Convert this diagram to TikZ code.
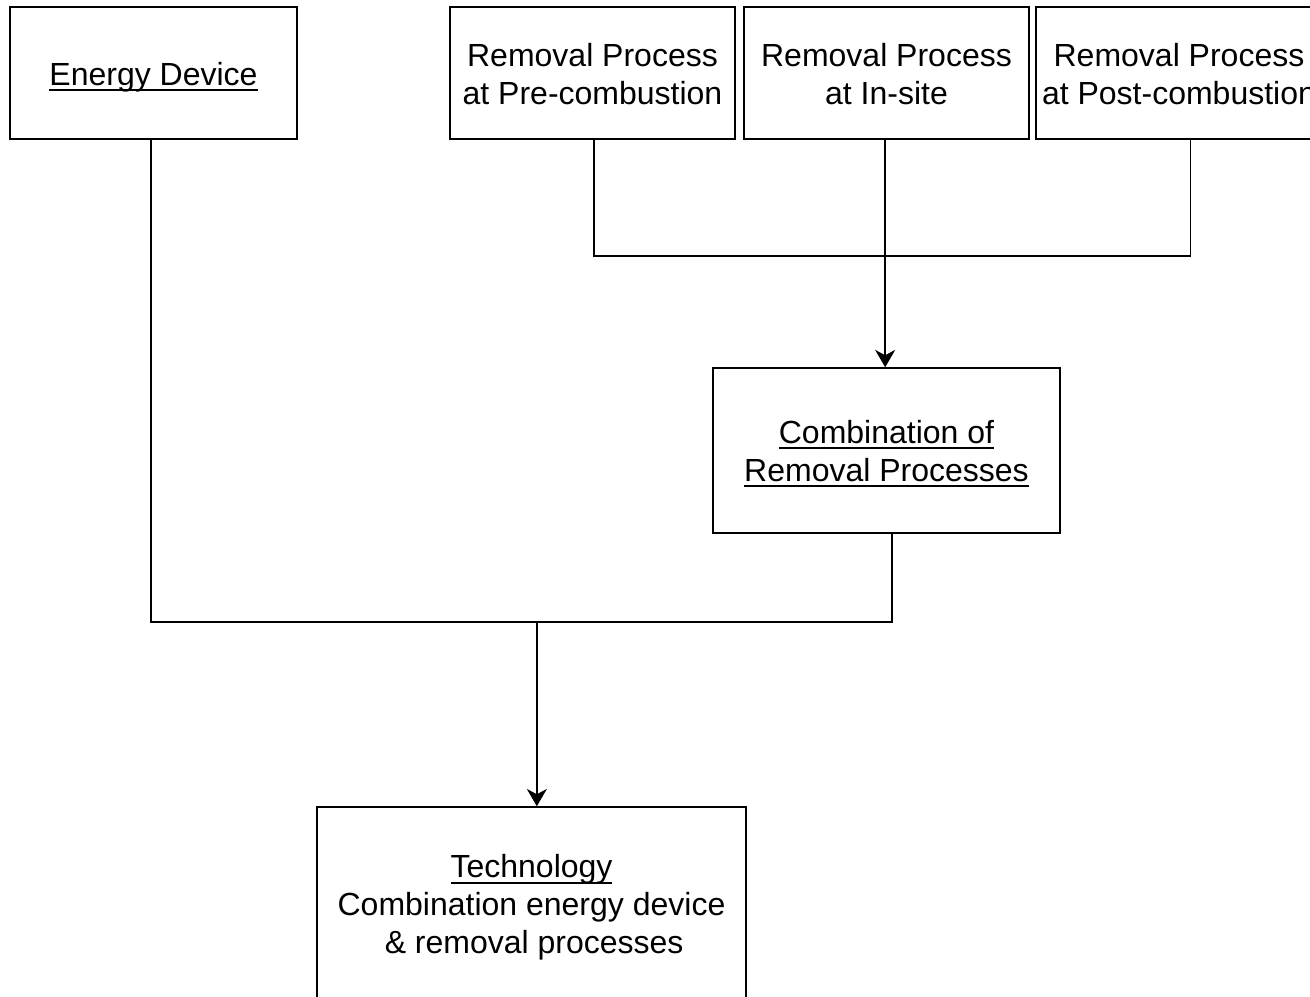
\documentclass[tikz,border=0pt]{standalone}
\usepackage{fontspec}
\setmainfont{Liberation Sans}
\usetikzlibrary{arrows.meta}
% underline with a fixed offset and thickness
\newcommand\ulbox[1]{\setbox0\hbox{#1}\rlap{\rule[-4.5pt]{\wd0}{1.5pt}}\box0}
% centred block of lines, set a little below the middle of its box
\newcommand\lines[2][3pt]{\raisebox{-#1}[\height][\depth]{\begin{tabular}{@{}c@{}}#2\end{tabular}}}
\begin{document}
\begin{tikzpicture}[x=0.75pt,y=-0.75pt,
  box/.style={draw,line width=1.1pt,inner sep=0pt,
    font=\fontsize{24}{28.5}\selectfont},
  link/.style={line width=1.1pt},
  arrowlink/.style={line width=1.1pt,-{Stealth[length=13pt,width=15pt,inset=4pt]}}]
\clip (0,0) rectangle (1310,996);
\fill[white] (0,0) rectangle (1310,996);

\node[box,minimum width=215.25pt,minimum height=99pt] (ed) at (153.5,73) {\lines[3.5pt]{\ulbox{Energy Device}}};
\node[box,minimum width=213.75pt,minimum height=99pt] (pre) at (592.5,73) {\lines[3.5pt]{Removal Process\\at Pre-combustion}};
\node[box,minimum width=213.75pt,minimum height=99pt] (ins) at (886.5,73) {\lines[3.5pt]{Removal Process\\at In-site}};
\node[box,minimum width=214.5pt,minimum height=99pt] (post) at (1179,73) {\lines[3.5pt]{Removal Process\\at Post-combustion}};
\node[box,minimum width=260.25pt,minimum height=123.75pt] (comb) at (886.5,450.5) {\lines{\ulbox{Combination of}\\\ulbox{Removal Processes}}};
\node[box,minimum width=321.75pt,minimum height=145.5pt] (tech) at (531.5,904) {\lines{\ulbox{Technology}\\Combination energy device\\\,\& removal processes}};

\coordinate (busA) at (0,256);
\coordinate (busB) at (0,622);

% removal processes gathered into their combination
\draw[link] ([xshift=1pt]pre.south) -- ([xshift=1pt]pre.south |- busA) -- ([xshift=8.5pt]post.south |- busA) -- ([xshift=8.5pt]post.south);
\draw[arrowlink] ([xshift=-1pt]ins.south) -- ([xshift=-1pt]comb.north);

% energy device and combination joined into the technology
\draw[link] ([xshift=-2pt]ed.south) -- ([xshift=-2pt]ed.south |- busB) -- ([xshift=4pt]comb.south |- busB) -- ([xshift=4pt]comb.south);
\coordinate (tap) at ([xshift=4pt]tech.north |- busB);
\draw[arrowlink] (tap) -- ([xshift=4pt]tech.north);
\end{tikzpicture}
\end{document}
